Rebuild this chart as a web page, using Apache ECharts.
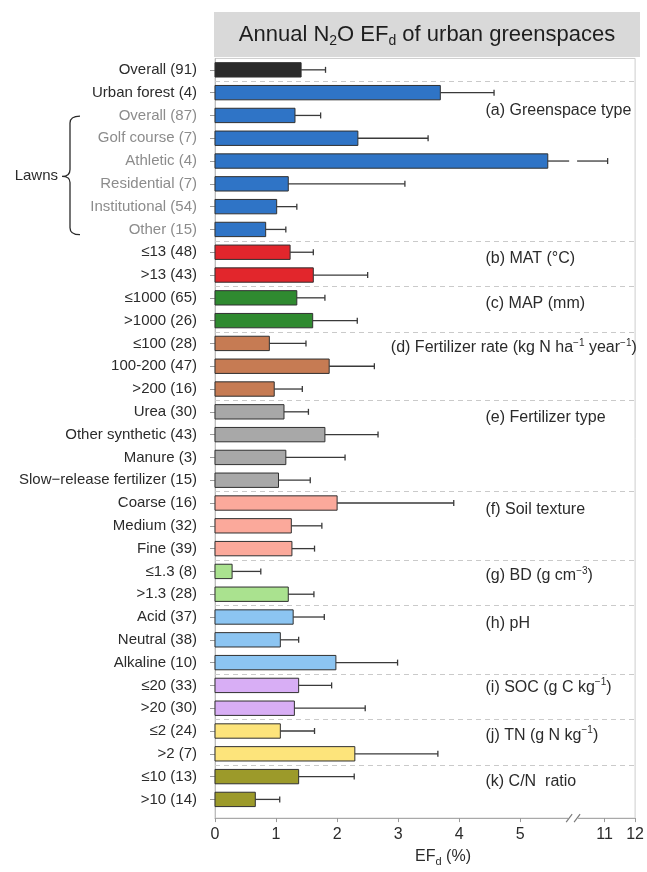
<!DOCTYPE html>
<html>
<head>
<meta charset="utf-8">
<script src="https://cdn.jsdelivr.net/npm/echarts@6/dist/echarts.min.js"></script>
<style>
  html, body { margin: 0; padding: 0; background: #fff; }
  #chart { width: 647px; height: 872px; }
</style>
</head>
<body>
<div id="chart"></div>
<script>
// ---- data ---------------------------------------------------------------
const categories = [
  'Overall (91)',
  'Urban forest (4)', 'Overall (87)', 'Golf course (7)', 'Athletic (4)', 'Residential (7)', 'Institutional (54)', 'Other (15)',
  '≤13 (48)', '>13 (43)',
  '≤1000 (65)', '>1000 (26)',
  '≤100 (28)', '100-200 (47)', '>200 (16)',
  'Urea (30)', 'Other synthetic (43)', 'Manure (3)', 'Slow−release fertilizer (15)',
  'Coarse (16)', 'Medium (32)', 'Fine (39)',
  '≤1.3 (8)', '>1.3 (28)',
  'Acid (37)', 'Neutral (38)', 'Alkaline (10)',
  '≤20 (33)', '>20 (30)',
  '≤2 (24)', '>2 (7)',
  '≤10 (13)', '>10 (14)'
];

// mean emission factor (%)
const meanEF = [
  1.41,
  3.69, 1.31, 2.34, 5.45, 1.20, 1.01, 0.83,
  1.23, 1.61,
  1.34, 1.60,
  0.89, 1.87, 0.97,
  1.13, 1.80, 1.16, 1.04,
  2.00, 1.25, 1.26,
  0.28, 1.20,
  1.28, 1.07, 1.98,
  1.37, 1.30,
  1.07, 2.29,
  1.37, 0.66
];

// upper end of the error bar (%)
const upperEF = [
  1.81,
  4.57, 1.73, 3.49, 11.1, 3.11, 1.34, 1.16,
  1.61, 2.50,
  1.80, 2.33,
  1.49, 2.61, 1.43,
  1.53, 2.67, 2.13, 1.56,
  3.91, 1.75, 1.63,
  0.75, 1.62,
  1.79, 1.37, 2.99,
  1.91, 2.46,
  1.63, 3.65,
  2.28, 1.06
];

// factor each row belongs to
const rowGroup = [
  'overall',
  'type', 'type', 'type', 'type', 'type', 'type', 'type',
  'mat', 'mat',
  'map', 'map',
  'rate', 'rate', 'rate',
  'ftype', 'ftype', 'ftype', 'ftype',
  'texture', 'texture', 'texture',
  'bd', 'bd',
  'ph', 'ph', 'ph',
  'soc', 'soc',
  'tn', 'tn',
  'cn', 'cn'
];

// lawn sub-types (bracketed, grey labels)
const lawnRows = ['Overall (87)', 'Golf course (7)', 'Athletic (4)', 'Residential (7)', 'Institutional (54)', 'Other (15)'];

const groupKeys = ['type', 'mat', 'map', 'rate', 'ftype', 'texture', 'bd', 'ph', 'soc', 'tn', 'cn'];
// {sup|...} marks superscript units
const groupTitles = [
  '(a) Greenspace type',
  '(b) MAT (°C)',
  '(c) MAP (mm)',
  '(d) Fertilizer rate (kg N ha{sup|−1} year{sup|−1})',
  '(e) Fertilizer type',
  '(f) Soil texture',
  '(g) BD (g cm{sup|−3})',
  '(h) pH',
  '(i) SOC (g C kg{sup|−1})',
  '(j) TN (g N kg{sup|−1})',
  '(k) C/N  ratio'
];

const xTickValues = [0, 1, 2, 3, 4, 5, 11, 12];

// ---- styling / layout -----------------------------------------------------
const FONT = '"Liberation Sans", Arial, Helvetica, sans-serif';
const groupColor = {
  overall: '#2b2b2b', type: '#2f74c6', mat: '#e2262c', map: '#2f8a30',
  rate: '#c67b53', ftype: '#a8a8a8', texture: '#fba99b', bd: '#aae28f',
  ph: '#8cc5f2', soc: '#d8aef5', tn: '#fde47b', cn: '#9c9a2a'
};
// where each factor heading sits: [x on the EF axis, row position]
const titleLayout = {
  type: [4.43, 1.8], mat: [4.43, 8.3], map: [4.43, 10.25], rate: [2.88, 12.2],
  ftype: [4.43, 15.26], texture: [4.43, 19.3], bd: [4.43, 22.2], ph: [4.43, 24.3],
  soc: [4.43, 27.1], tn: [4.43, 29.2], cn: [4.43, 31.2]
};

// broken EF axis: linear up to BREAK_LO, then a compressed segment from BREAK_HI on
const BREAK_LO = 5.8, BREAK_HI = 10.1, BREAK_GAP = 0.13, POST_SCALE = 0.5;
function toAxis(v) {
  if (v <= BREAK_LO) return v;
  return BREAK_LO + BREAK_GAP + (v - BREAK_HI) * POST_SCALE;
}
function fromAxis(d) {
  if (d <= BREAK_LO) return d;
  return BREAK_HI + (d - BREAK_LO - BREAK_GAP) / POST_SCALE;
}

const Y_MIN = -0.5, Y_MAX = categories.length - 0.5 + 0.32;
const GRID = { left: 215, right: 8, top: 58.44, bottom: 43 };

// dashed separators between factors
const separators = [];
for (let i = 1; i < rowGroup.length; i++) {
  if (rowGroup[i] !== rowGroup[i - 1]) separators.push(i - 0.5);
}

const lawnIdx = lawnRows.map(n => categories.indexOf(n));

const chart = echarts.init(document.getElementById('chart'), null, { renderer: 'canvas' });

const option = {
  animation: false,
  backgroundColor: '#fff',
  textStyle: { fontFamily: FONT },
  grid: Object.assign({ show: true, borderColor: '#cdcdcd', borderWidth: 1, containLabel: false }, GRID),
  graphic: [
    {
      type: 'rect', z: 0,
      shape: { x: 214, y: 12, width: 426, height: 45 },
      style: { fill: '#d9d9d9' }
    },
    {
      type: 'text', z: 1, x: 427, y: 35,
      style: {
        text: 'Annual N{sub|2}O EF{sub|d} of urban greenspaces',
        fontFamily: FONT, fontSize: 22, lineHeight: 27, fill: '#1e1e1e',
        align: 'center', verticalAlign: 'middle',
        rich: { sub: { fontFamily: FONT, fontSize: 14, lineHeight: 14, verticalAlign: 'bottom', fill: '#1e1e1e' } }
      }
    }
  ],
  xAxis: {
    type: 'value',
    min: 0,
    max: toAxis(12),
    name: 'EF{sub|d} (%)',
    nameLocation: 'middle',
    nameGap: 25,
    nameTextStyle: {
      fontFamily: FONT, fontSize: 16, lineHeight: 20, color: '#2b2b2b',
      padding: [0, 0, 0, 36],
      rich: { sub: { fontFamily: FONT, fontSize: 11, lineHeight: 11, verticalAlign: 'bottom', color: '#2b2b2b' } }
    },
    axisLine: { show: true, onZero: false, lineStyle: { color: '#a9a9a9', width: 1 } },
    axisTick: { show: true, length: 4, customValues: xTickValues.map(toAxis), lineStyle: { color: '#9a9a9a' } },
    axisLabel: {
      customValues: xTickValues.map(toAxis),
      formatter: v => String(Math.round(fromAxis(v))),
      fontFamily: FONT, fontSize: 16, color: '#2b2b2b', margin: 8,
      showMinLabel: true, showMaxLabel: true, hideOverlap: false
    },
    splitLine: { show: false }
  },
  yAxis: {
    type: 'value',
    inverse: true,
    min: Y_MIN,
    max: Y_MAX,
    axisLine: { show: true, onZero: false, lineStyle: { color: '#bdbdbd', width: 1 } },
    axisTick: { show: true, length: 5, customValues: categories.map((c, i) => i), lineStyle: { color: '#9a9a9a' } },
    axisLabel: {
      customValues: categories.map((c, i) => i),
      formatter: v => {
        const i = Math.round(v);
        return lawnIdx.indexOf(i) >= 0 ? '{g|' + categories[i] + '}' : '{k|' + categories[i] + '}';
      },
      margin: 18,
      fontFamily: FONT, fontSize: 15,
      rich: {
        k: { fontFamily: FONT, fontSize: 15, color: '#2b2b2b' },
        g: { fontFamily: FONT, fontSize: 15, color: '#8c8c8c' }
      },
      showMinLabel: true, showMaxLabel: true, hideOverlap: false
    },
    splitLine: { show: false }
  },
  series: [
    // bars
    {
      type: 'custom',
      name: 'EF',
      coordinateSystem: 'cartesian2d',
      data: categories.map((c, i) => [toAxis(meanEF[i]), i]),
      renderItem(params, api) {
        const i = params.dataIndex;
        const row = api.value(1);
        const p0 = api.coord([0, row]);
        const p1 = api.coord([api.value(0), row]);
        const h = api.size([0, 1])[1] * 0.63;
        return {
          type: 'rect',
          shape: { x: p0[0], y: p0[1] - h / 2, width: p1[0] - p0[0], height: h },
          style: { fill: groupColor[rowGroup[i]], stroke: '#303030', lineWidth: 1 }
        };
      },
      markLine: {
        silent: true,
        symbol: ['none', 'none'],
        label: { show: false },
        lineStyle: { type: [5, 4], color: '#cacaca', width: 1 },
        data: separators.map(y => ({ yAxis: y }))
      },
      z: 3
    },
    // error bars (upper side), split across the axis break when needed
    {
      type: 'custom',
      name: 'upper',
      coordinateSystem: 'cartesian2d',
      data: categories.map((c, i) => [toAxis(upperEF[i]), i]),
      renderItem(params, api) {
        const i = params.dataIndex;
        const row = api.value(1);
        const a = meanEF[i], b = upperEF[i];
        const segs = b <= BREAK_LO ? [[a, b]] : [[a, BREAK_LO], [BREAK_HI, b]];
        const children = [];
        const lineStyle = { stroke: '#3a3a3a', lineWidth: 1.3 };
        segs.forEach(s => {
          const p = api.coord([toAxis(s[0]), row]);
          const q = api.coord([toAxis(s[1]), row]);
          children.push({ type: 'line', shape: { x1: p[0], y1: p[1], x2: q[0], y2: q[1] }, style: lineStyle });
        });
        const e = api.coord([toAxis(b), row]);
        children.push({ type: 'line', shape: { x1: e[0], y1: e[1] - 3, x2: e[0], y2: e[1] + 3 }, style: lineStyle });
        return { type: 'group', children };
      },
      z: 4
    },
    // factor headings
    {
      type: 'custom',
      name: 'headings',
      coordinateSystem: 'cartesian2d',
      silent: true,
      data: groupKeys.map(k => titleLayout[k]),
      renderItem(params, api) {
        const p = api.coord([api.value(0), api.value(1)]);
        return {
          type: 'text', x: p[0], y: p[1],
          style: {
            text: groupTitles[params.dataIndex],
            fontFamily: FONT, fontSize: 16, lineHeight: 20, fill: '#2b2b2b',
            align: 'left', verticalAlign: 'middle',
            rich: { sup: { fontFamily: FONT, fontSize: 10, lineHeight: 11, verticalAlign: 'top', fill: '#2b2b2b' } }
          }
        };
      },
      z: 5
    },
    // "Lawns" bracket to the left of the labels
    {
      type: 'custom',
      name: 'lawns',
      coordinateSystem: 'cartesian2d',
      silent: true,
      clip: false,
      data: [[0, lawnIdx[0], lawnIdx[lawnIdx.length - 1]]],
      renderItem(params, api) {
        const top = api.coord([0, api.value(1) + 0.03])[1];
        const bot = api.coord([0, api.value(2) + 0.23])[1];
        const mid = (top + bot) / 2;
        const x = api.coord([0, 0])[0] - 145;
        const d = 'M' + (x + 10) + ' ' + top +
          ' Q' + x + ' ' + top + ' ' + x + ' ' + (top + 7) +
          ' L' + x + ' ' + (mid - 6) +
          ' Q' + x + ' ' + (mid + 1) + ' ' + (x - 8) + ' ' + (mid + 1) +
          ' Q' + x + ' ' + (mid + 1) + ' ' + x + ' ' + (mid + 7) +
          ' L' + x + ' ' + (bot - 7) +
          ' Q' + x + ' ' + bot + ' ' + (x + 10) + ' ' + bot;
        return {
          type: 'group',
          children: [
            { type: 'path', shape: { pathData: d }, style: { stroke: '#2b2b2b', lineWidth: 1.3, fill: null } },
            {
              type: 'text', x: x - 12, y: mid,
              style: { text: 'Lawns', fontFamily: FONT, fontSize: 15, fill: '#2b2b2b', align: 'right', verticalAlign: 'middle' }
            }
          ]
        };
      },
      z: 5
    },
    // break mark on the EF axis
    {
      type: 'custom',
      name: 'axisBreak',
      coordinateSystem: 'cartesian2d',
      silent: true,
      clip: false,
      data: [[BREAK_LO, Y_MAX]],
      renderItem(params, api) {
        const lo = api.coord([api.value(0), api.value(1)]);
        const hi = api.coord([api.value(0) + BREAK_GAP, api.value(1)]);
        const y = lo[1];
        const st = { stroke: '#7a7a7a', lineWidth: 1.1 };
        return {
          type: 'group',
          children: [
            { type: 'rect', shape: { x: lo[0] - 1, y: y - 2, width: hi[0] - lo[0] + 2, height: 4 }, style: { fill: '#fff' } },
            { type: 'line', shape: { x1: lo[0] - 3, y1: y + 4, x2: lo[0] + 3, y2: y - 4 }, style: st },
            { type: 'line', shape: { x1: hi[0] - 3, y1: y + 4, x2: hi[0] + 3, y2: y - 4 }, style: st }
          ]
        };
      },
      z: 6
    }
  ]
};

chart.setOption(option);
</script>
</body>
</html>
